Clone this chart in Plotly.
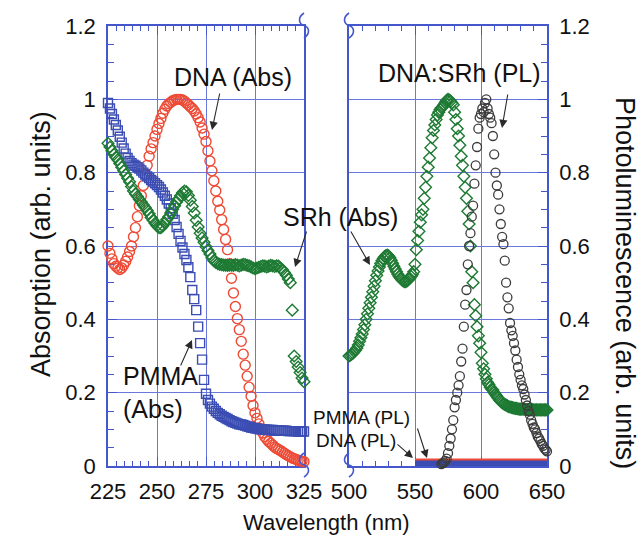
import plotly.graph_objects as go

W, H = 640, 540

# ---------------- data ----------------
wl_uv = list(range(225, 326))
dna_abs = [0.60, 0.58, 0.565, 0.552, 0.545, 0.54, 0.536, 0.54, 0.548, 0.558,
           0.57, 0.585, 0.60, 0.625, 0.65, 0.68, 0.71, 0.737, 0.765, 0.795,
           0.82, 0.845, 0.865, 0.882, 0.90, 0.918, 0.934, 0.948, 0.962, 0.973,
           0.982, 0.988, 0.992, 0.996, 0.998, 1.0, 1.0, 1.0, 0.998, 0.995,
           0.99, 0.985, 0.98, 0.975, 0.968, 0.96, 0.95, 0.938, 0.922, 0.905,
           0.885, 0.86, 0.832, 0.805, 0.778, 0.75, 0.722, 0.698, 0.672, 0.645,
           0.618, 0.59, 0.552, 0.512, 0.472, 0.435, 0.402, 0.372, 0.34, 0.305,
           0.275, 0.245, 0.215, 0.19, 0.165, 0.145, 0.13, 0.115, 0.102, 0.09,
           0.08, 0.073, 0.067, 0.062, 0.057, 0.052, 0.048, 0.045, 0.042, 0.038,
           0.035, 0.031, 0.028, 0.025, 0.022, 0.02, 0.018, 0.016, 0.014, 0.013,
           0.012]
pmma_abs = [0.99, 0.975, 0.96, 0.945, 0.93, 0.915, 0.898, 0.882, 0.866, 0.852,
            0.84, 0.832, 0.826, 0.822, 0.819, 0.815, 0.811, 0.806, 0.80, 0.795,
            0.79, 0.785, 0.78, 0.776, 0.771, 0.766, 0.761, 0.754, 0.746, 0.737,
            0.727, 0.716, 0.703, 0.688, 0.671, 0.652, 0.633, 0.614, 0.596, 0.578,
            0.562, 0.542, 0.515, 0.48, 0.455, 0.425, 0.38, 0.335, 0.29, 0.235,
            0.197, 0.18, 0.17, 0.162, 0.156, 0.15, 0.145, 0.141, 0.137, 0.134,
            0.131, 0.128, 0.125, 0.122, 0.12, 0.118, 0.116, 0.114, 0.113, 0.112,
            0.11, 0.108, 0.107, 0.105, 0.104, 0.103, 0.102, 0.101, 0.1, 0.1,
            0.099, 0.099, 0.098, 0.098, 0.098, 0.097, 0.097, 0.097, 0.096, 0.096,
            0.096, 0.096, 0.095, 0.095, 0.095, 0.095, 0.095, 0.094, 0.094, 0.094,
            0.094]
srh_abs_uv = [0.88, 0.87, 0.86, 0.85, 0.842, 0.835, 0.825, 0.815, 0.805, 0.795,
              0.785, 0.775, 0.762, 0.75, 0.742, 0.735, 0.727, 0.72, 0.712, 0.705,
              0.697, 0.688, 0.678, 0.67, 0.662, 0.655, 0.65, 0.65, 0.655, 0.663,
              0.672, 0.68, 0.69, 0.70, 0.71, 0.72, 0.728, 0.737, 0.745, 0.75,
              0.748, 0.738, 0.725, 0.708, 0.69, 0.67, 0.652, 0.635, 0.622, 0.61,
              0.598, 0.588, 0.578, 0.568, 0.56, 0.555, 0.552, 0.55, 0.549, 0.548,
              0.548, 0.547, 0.548, 0.548, 0.547, 0.549, 0.548, 0.546, 0.548, 0.55,
              0.549, 0.547, 0.546, 0.543, 0.54, 0.538, 0.54, 0.542, 0.544, 0.546,
              0.545, 0.543, 0.545, 0.547, 0.546, 0.544, 0.546, 0.545, 0.54, 0.535,
              0.528, 0.52, 0.51, 0.50, 0.425, 0.30, 0.285, 0.27, 0.255, 0.24,
              0.23]

wl_vis = list(range(500, 651))
srh_abs_vis = [0.30, 0.302, 0.305, 0.308, 0.312, 0.316, 0.322, 0.33, 0.34, 0.35,
               0.36, 0.372, 0.385, 0.40, 0.415, 0.43, 0.445, 0.46, 0.475, 0.49,
               0.505, 0.52, 0.532, 0.543, 0.552, 0.56, 0.566, 0.571, 0.574, 0.575,
               0.573, 0.568, 0.561, 0.553, 0.545, 0.537, 0.53, 0.523, 0.517, 0.512,
               0.508, 0.505, 0.503, 0.503, 0.505, 0.508, 0.512, 0.517, 0.522, 0.53,
               0.55, 0.59, 0.615, 0.64, 0.665, 0.685, 0.70, 0.73, 0.76, 0.79,
               0.815, 0.84, 0.868, 0.895, 0.915, 0.93, 0.945, 0.957, 0.965, 0.972,
               0.977, 0.98, 0.986, 0.992, 0.997, 1.0, 0.998, 0.995, 0.99, 0.985,
               0.965, 0.945, 0.92, 0.90, 0.875, 0.845, 0.82, 0.79, 0.76, 0.73,
               0.695, 0.66, 0.60, 0.53, 0.50, 0.44, 0.41, 0.38, 0.355, 0.335,
               0.31, 0.28, 0.265, 0.25, 0.238, 0.228, 0.222, 0.215, 0.21, 0.207,
               0.20, 0.195, 0.19, 0.185, 0.18, 0.176, 0.173, 0.17, 0.168, 0.166,
               0.164, 0.162, 0.161, 0.16, 0.159, 0.158, 0.157, 0.157, 0.156, 0.155,
               0.155, 0.155, 0.155, 0.155, 0.154, 0.154, 0.154, 0.154, 0.154, 0.154,
               0.153, 0.153, 0.153, 0.153, 0.153, 0.153, 0.153, 0.153, 0.153, 0.153,
               0.153]

wl_pl = list(range(570, 651))
dnasrh_pl = [0.005, 0.008, 0.01, 0.014, 0.02, 0.035, 0.055, 0.075, 0.10, 0.125,
             0.16, 0.18, 0.20, 0.22, 0.245, 0.285, 0.32, 0.38, 0.44, 0.48,
             0.55, 0.60, 0.635, 0.68, 0.71, 0.77, 0.82, 0.87, 0.92, 0.95,
             0.96, 0.975, 0.965, 0.99, 1.0, 0.975, 0.96, 0.95, 0.935, 0.90,
             0.85, 0.80, 0.765, 0.74, 0.70, 0.66, 0.625, 0.605, 0.56, 0.50,
             0.46, 0.43, 0.39, 0.37, 0.355, 0.335, 0.315, 0.29, 0.27, 0.25,
             0.235, 0.22, 0.21, 0.195, 0.18, 0.165, 0.15, 0.14, 0.125, 0.115,
             0.105, 0.10, 0.09, 0.08, 0.075, 0.068, 0.06, 0.055, 0.048, 0.044,
             0.04]

wl_pl_flat = [550, 650]
pmma_pl = [0.008, 0.008]
dna_pl = [0.018, 0.018]

x_ticks_uv = [225, 250, 275, 300, 325]
x_ticks_vis = [500, 550, 600, 650]
y_ticks = [0, 0.2, 0.4, 0.6, 0.8, 1.0, 1.2]
y_tick_text = ["0", "0.2", "0.4", "0.6", "0.8", "1", "1.2"]

# ---------------- styling ----------------
FONT = "Liberation Sans, Arial, Helvetica, sans-serif"
AX = "#4557cc"
GRID = "#6a78dc"
RED = "#ee4a35"
BLUE = "#3b4db3"
GREEN = "#1e7a33"
GRAY = "#3c3c3c"


def px(x):
    return x / W


def py(y):
    return 1 - y / H


fig = go.Figure()

fig.add_trace(go.Scatter(x=wl_uv, y=dna_abs, mode="markers", xaxis="x", yaxis="y",
                         cliponaxis=False,
                         marker=dict(symbol="circle-open", size=10, color=RED,
                                     line=dict(width=1.4, color=RED))))
fig.add_trace(go.Scatter(x=wl_uv, y=pmma_abs, mode="markers", xaxis="x", yaxis="y",
                         cliponaxis=False,
                         marker=dict(symbol="square-open", size=9, color=BLUE,
                                     line=dict(width=1.4, color=BLUE))))
fig.add_trace(go.Scatter(x=wl_uv, y=srh_abs_uv, mode="markers", xaxis="x", yaxis="y",
                         cliponaxis=False,
                         marker=dict(symbol="diamond-open", size=9, color=GREEN,
                                     line=dict(width=1.4, color=GREEN))))

fig.add_trace(go.Scatter(x=wl_pl_flat, y=pmma_pl, mode="lines", xaxis="x2", yaxis="y2",
                         cliponaxis=False, line=dict(color=BLUE, width=8)))
fig.add_trace(go.Scatter(x=wl_pl_flat, y=dna_pl, mode="lines", xaxis="x2", yaxis="y2",
                         cliponaxis=False, line=dict(color=RED, width=2)))
fig.add_trace(go.Scatter(x=wl_vis, y=srh_abs_vis, mode="markers", xaxis="x2", yaxis="y2",
                         cliponaxis=False,
                         marker=dict(symbol="diamond-open", size=9, color=GREEN,
                                     line=dict(width=1.4, color=GREEN))))
fig.add_trace(go.Scatter(x=wl_pl, y=dnasrh_pl, mode="markers", xaxis="x2", yaxis="y2",
                         cliponaxis=False,
                         marker=dict(symbol="circle-open", size=9, color=GRAY,
                                     line=dict(width=1.3, color=GRAY))))

tickfont = dict(family=FONT, size=22, color="#111")
ydom = [py(466), py(26)]


def xax(dom, rng, ticks, minor_dt, anchor):
    return dict(domain=dom, range=rng, tickmode="array", tickvals=ticks,
                ticks="inside", ticklen=9, tickwidth=1.2, tickcolor=AX,
                showline=True, linecolor=AX, linewidth=1.6, mirror="ticks",
                showgrid=True, gridcolor=GRID, gridwidth=1, zeroline=False,
                minor=dict(tick0=rng[0], dtick=minor_dt, ticks="inside", ticklen=5,
                           tickwidth=1.2, tickcolor=AX, showgrid=False),
                tickfont=tickfont, anchor=anchor, ticklabelstandoff=5,
                automargin=False, fixedrange=True, layer="below traces")


def yax(side, anchor):
    return dict(domain=ydom, range=[0, 1.2], tickmode="array", tickvals=y_ticks,
                ticktext=y_tick_text,
                ticks="inside", ticklen=9, tickwidth=1.2, tickcolor=AX,
                showline=True, linecolor=AX, linewidth=1.6, mirror=True,
                showgrid=True, gridcolor=GRID, gridwidth=1, zeroline=False,
                minor=dict(tick0=0, dtick=0.05, ticks="inside", ticklen=6,
                           tickwidth=1.2, tickcolor=AX, showgrid=False),
                tickfont=tickfont, anchor=anchor, side=side, ticklabelstandoff=6,
                automargin=False, fixedrange=True, layer="below traces")


annotations = []


def label(text, x, y, size=25, xanchor="center", align="center", angle=0):
    annotations.append(dict(text=text, x=px(x), y=py(y), xref="paper", yref="paper",
                            showarrow=False, xanchor=xanchor, yanchor="middle",
                            align=align, textangle=angle,
                            font=dict(family=FONT, size=size, color="#111")))


def arrow(tail, tip):
    annotations.append(dict(text="", x=px(tip[0]), y=py(tip[1]), xref="paper", yref="paper",
                            ax=tail[0] - tip[0], ay=tail[1] - tip[1],
                            axref="pixel", ayref="pixel", showarrow=True,
                            arrowhead=2, arrowsize=1.5, arrowwidth=1.1,
                            arrowcolor="#2a2a2a", standoff=0))


label("DNA (Abs)", 233, 77)
arrow((220, 92), (212, 130))
label("SRh (Abs)", 340, 217)
arrow((307, 230), (295, 267))
arrow((350, 230), (370, 265))
label("PMMA<br>(Abs)", 121, 392, xanchor="left", align="left")
arrow((180, 367), (192, 340))
label("DNA:SRh (PL)", 459, 73)
arrow((508, 93), (502, 128))
label("PMMA (PL)", 412, 417, size=19, xanchor="right")
arrow((417, 427), (427, 458))
label("DNA (PL)", 398, 440, size=19, xanchor="right")
arrow((396, 443), (413, 458))

label("Absorption (arb. units)", 41, 244, size=27, angle=-90)
label("Photoluminescence (arb. units)", 625, 283, size=27, angle=90)
label("Wavelength (nm)", 326, 522, size=22)


def brk(x, yt, yb):
    ym = (yt + yb) / 2
    pts = [(x, yt), (x - 6, yt + 4), (x - 6, ym - 2), (x, ym),
           (x + 6, ym + 2), (x + 6, yb - 4), (x, yb)]
    p = [f"{px(a):.5f},{py(b):.5f}" for a, b in pts]
    return dict(type="path", xref="paper", yref="paper",
                path=f"M {p[0]} C {p[1]} {p[2]} {p[3]} C {p[4]} {p[5]} {p[6]}",
                line=dict(color=AX, width=1.6))


shapes = [brk(304, 13, 38), brk(349, 13, 38), brk(304, 453, 477), brk(349, 453, 477)]

fig.update_layout(
    width=W, height=H, margin=dict(l=0, r=0, t=0, b=0),
    paper_bgcolor="white", plot_bgcolor="white", showlegend=False,
    font=dict(family=FONT, color="#111"),
    xaxis=xax([px(108), px(304)], [225, 325], x_ticks_uv, 25 / 6, "y"),
    xaxis2=xax([px(349), px(547)], [500, 650], x_ticks_vis, 10, "y2"),
    yaxis=yax("left", "x"),
    yaxis2=yax("right", "x2"),
    annotations=annotations, shapes=shapes,
)

fig.write_html("out.html", config={"displayModeBar": False},
               post_script="document.body.style.margin='0px';"
                           "document.documentElement.style.overflow='hidden';")
